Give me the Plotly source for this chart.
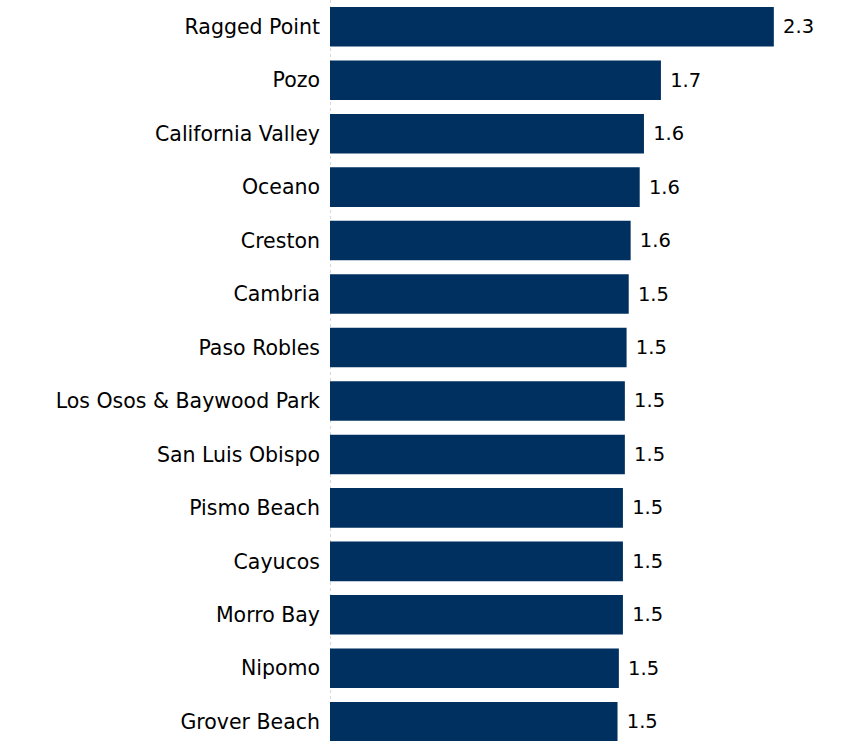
import plotly.graph_objects as go

places = ["Ragged Point", "Pozo", "California Valley", "Oceano", "Creston", "Cambria",
          "Paso Robles", "Los Osos & Baywood Park", "San Luis Obispo", "Pismo Beach",
          "Cayucos", "Morro Bay", "Nipomo", "Grover Beach"]
values = [2.30, 1.715, 1.627, 1.605, 1.558, 1.548, 1.537, 1.528, 1.528, 1.518,
          1.518, 1.518, 1.497, 1.49]

bar_color = "#00305f"

fig = go.Figure(go.Bar(
    x=values, y=places, orientation="h",
    marker=dict(color=bar_color, line=dict(width=0)),
    texttemplate="\u00a0%{x:.1f}", textposition="outside",
    textfont=dict(family="DejaVu Sans", size=19.5, color="#000000"),
    cliponaxis=False,
))

fig.update_layout(
    width=866, height=741,
    margin=dict(l=330, r=0, t=0, b=0),
    paper_bgcolor="white", plot_bgcolor="white",
    bargap=0.26,
    showlegend=False,
    font=dict(family="DejaVu Sans", size=20.5, color="#000000"),
    xaxis=dict(range=[0, 2.3 * 535 / 443], visible=False, showgrid=False, zeroline=False),
    yaxis=dict(categoryorder="array", categoryarray=places, range=[13.36, -0.5],
               showgrid=False, zeroline=False, showline=False, ticks="",
               ticklabelstandoff=9,
               tickfont=dict(family="DejaVu Sans", size=20.5, color="#000000")),
    shapes=[dict(type="line", xref="x", yref="paper", x0=0, x1=0, y0=0, y1=1,
                 line=dict(color="#b0b0b0", width=1, dash="dot"), layer="below")],
)

fig.write_html("out.html")
